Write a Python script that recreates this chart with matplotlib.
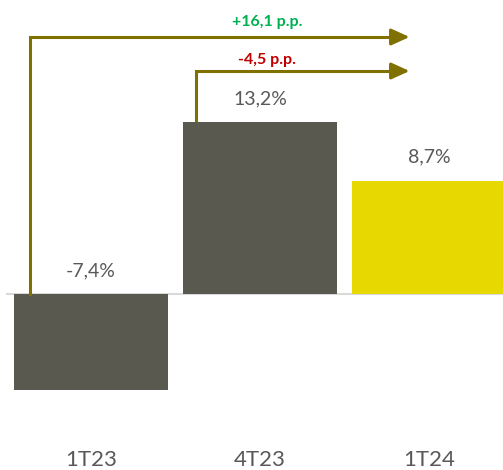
import matplotlib
matplotlib.use("Agg")
import matplotlib.pyplot as plt

categories = ["1T23", "4T23", "1T24"]
values = [-7.4, 13.2, 8.7]
bar_colors = ["#595950", "#595950", "#e6d800"]


def fmt(v, sign=False):
    s = f"{v:+.1f}" if sign else f"{v:.1f}"
    return s.replace(".", ",")


plt.rcParams["font.family"] = ["Lato", "DejaVu Sans"]

fig = plt.figure(figsize=(5.03, 4.70), dpi=100)
ax = fig.add_axes([0, 0, 1, 1])
ax.set_xlim(-0.538, 2.438)
ax.set_ylim(-13.51, 22.56)
ax.axis("off")

x = range(len(categories))
ax.bar(x, values, width=0.911, color=bar_colors, zorder=2)
ax.axhline(0, xmin=0.014, xmax=1, color="#d9d9d9", linewidth=1.5, zorder=1)

text_gray = "#595959"
for i, v in enumerate(values):
    y = max(v, 0) + 1.8
    ax.text(i, y, fmt(v) + "%", ha="center", va="center", fontsize=14, color=text_gray)
    ax.text(i, -12.75, categories[i], ha="center", va="center", fontsize=16, color=text_gray)

# variation arrows: from 1T23 and 4T23 towards 1T24
arrow_color = "#7f7000"
arrow_end = 1.885
arrows = [
    (-0.361, 0.0, 19.72, values[2] - values[0], "#00b050", 1.15),
    (0.621, values[1] + 0.15, 17.11, values[2] - values[1], "#c00000", 0.85),
]
for ax_x, y0, y_top, delta, col, lab_off in arrows:
    ax.plot([ax_x, ax_x, arrow_end - 0.09], [y0, y_top, y_top], color=arrow_color,
            linewidth=2.2, solid_joinstyle="miter", zorder=3)
    ax.annotate("", xy=(arrow_end, y_top), xytext=(arrow_end - 0.1, y_top),
                arrowprops=dict(arrowstyle="-|>,head_length=1.1,head_width=0.5",
                                color=arrow_color, linewidth=2.2, shrinkA=0, shrinkB=0),
                zorder=3)
    ax.text(1.04, y_top + lab_off, fmt(delta, sign=True) + " p.p.", ha="center", va="center",
            fontsize=11.5, fontweight="bold", color=col)

fig.savefig("out.png", dpi=100)
